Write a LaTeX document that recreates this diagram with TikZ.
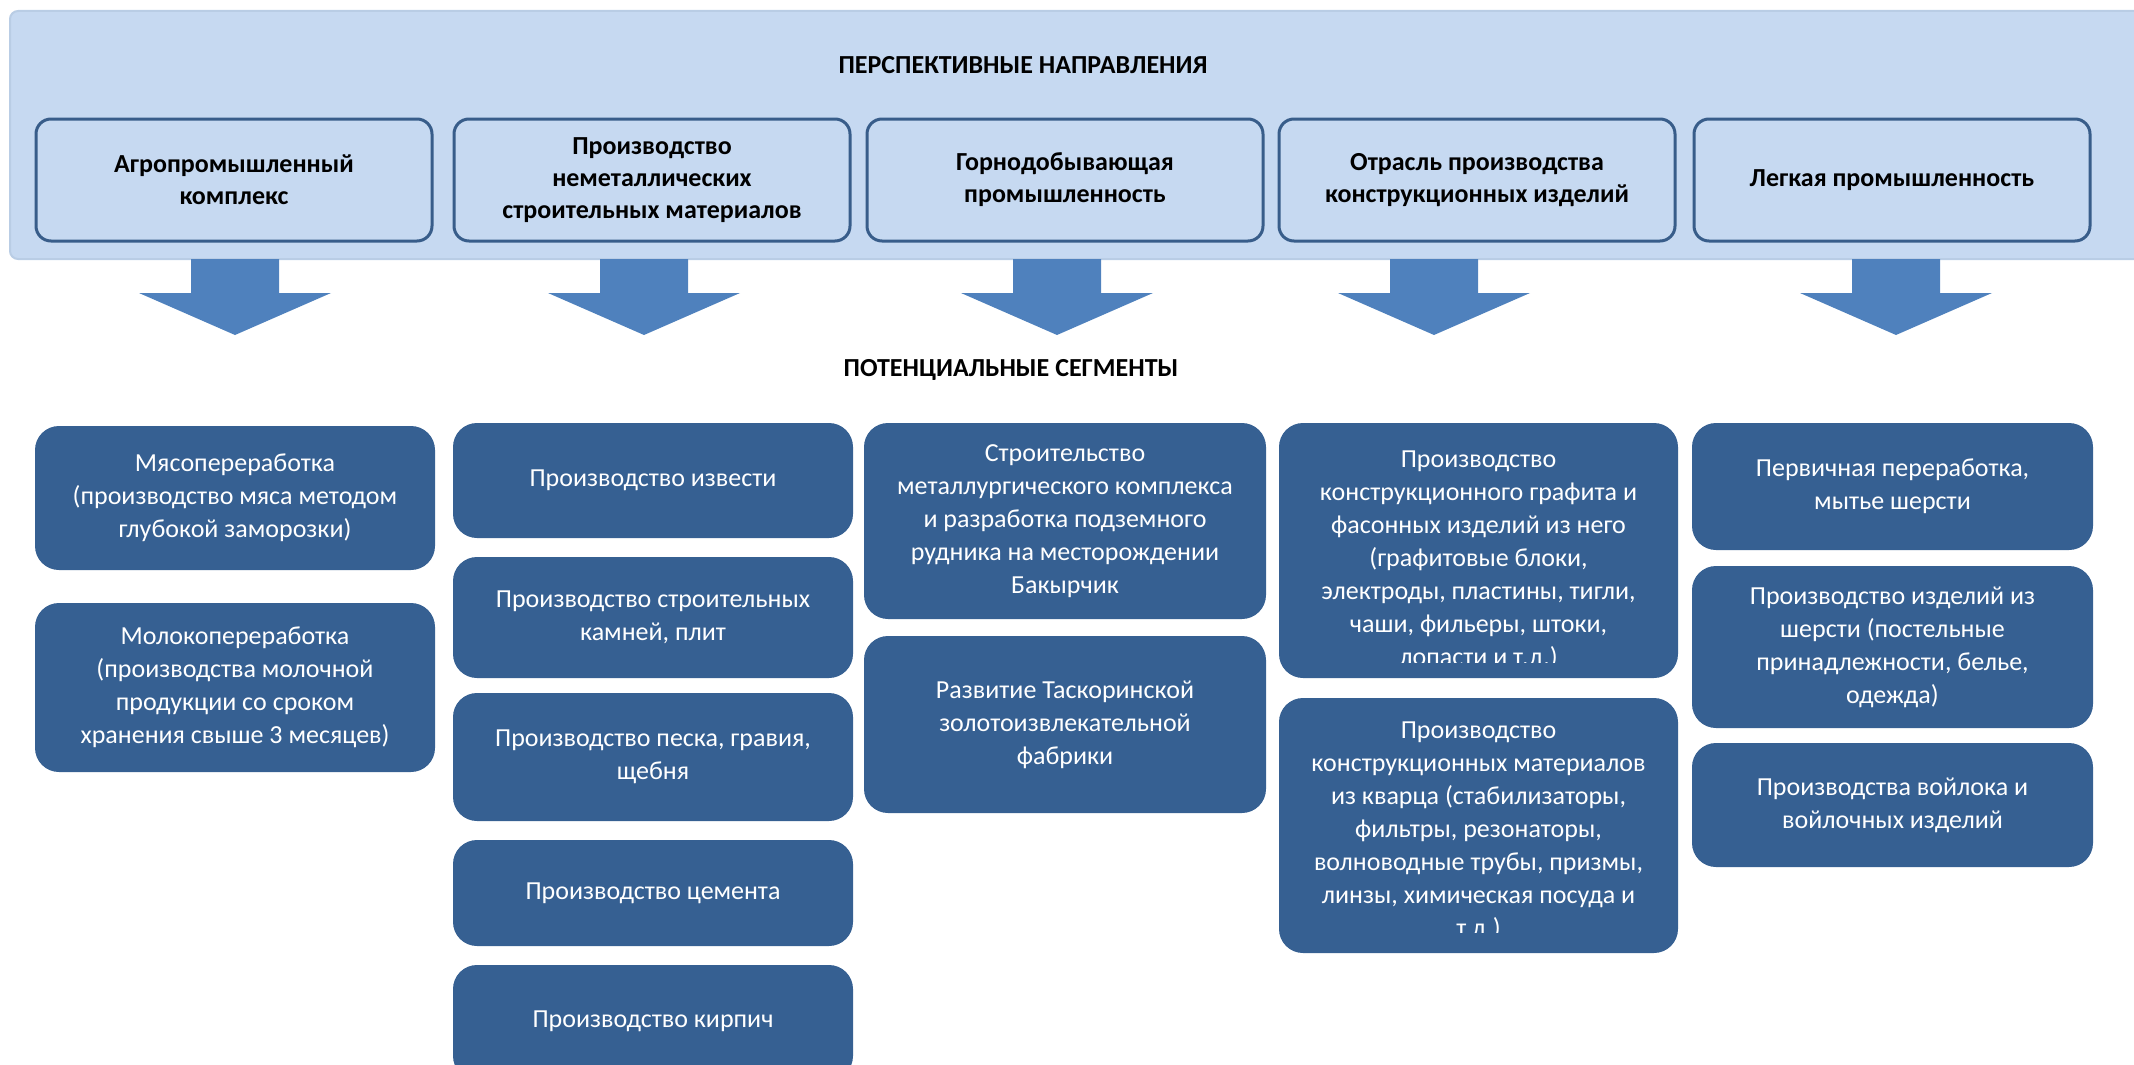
\documentclass[tikz,border=0pt]{standalone}
\usepackage{fontspec}
\setmainfont{Carlito}
\definecolor{bgfill}{RGB}{198,217,241}
\definecolor{bgline}{RGB}{185,205,229}
\definecolor{topline}{RGB}{56,93,138}
\definecolor{arrowblue}{RGB}{79,129,189}
\definecolor{segblue}{RGB}{54,96,146}
\tikzset{
  topbox/.style={draw=topline, line width=3pt, fill=bgfill, rounded corners=15pt,
    minimum width=396pt, minimum height=122pt, inner sep=0pt, outer sep=0pt,
    align=center, font=\fontsize{26}{32}\selectfont\bfseries},
  segbox/.style={fill=segblue, rounded corners=24pt, inner sep=0pt, outer sep=0pt,
    text=white, align=center, font=\fontsize{26}{33}\selectfont},
  segtext/.style={inner sep=0pt, text=white, align=center, font=\fontsize{26}{33}\selectfont},
  headtext/.style={inner sep=0pt, font=\fontsize{26}{32}\selectfont\bfseries},
}
\begin{document}
\begin{tikzpicture}[x=1pt,y=-1pt]
\useasboundingbox (0,0) rectangle (2134,1065);
\clip (0,0) rectangle (2134,1065);
% background panel
\draw[fill=bgfill, draw=bgline, line width=2pt, rounded corners=8pt] (10,11) rectangle (2160,259);
\node[headtext] (title) at (1023,65) {ПЕРСПЕКТИВНЫЕ НАПРАВЛЕНИЯ};
% top boxes
\node[topbox] (t1) at (234,180) {Агропромышленный\\комплекс};
\node[topbox] (t2) at (652,180) {Производство\\неметаллических\\строительных материалов};
\node[topbox] (t3) at (1065,180) {Горнодобывающая\\промышленность};
\node[topbox] (t4) at (1477,180) {Отрасль производства\\конструкционных изделий};
\node[topbox] (t5) at (1892,180) {Легкая промышленность};
% block arrows
\foreach \n/\cx in {1/235,2/644,3/1057,4/1434,5/1896}{
  \coordinate (a\n) at (\cx,259);
  \fill[arrowblue] (a\n) ++(-44,0) -- ++(0,34) -- ++(-52,0) -- ++(96,42) -- ++(96,-42) -- ++(-52,0) -- ++(0,-34) -- cycle;
}
\node[headtext] (sub) at (1011,370) {ПОТЕНЦИАЛЬНЫЕ СЕГМЕНТЫ};
% column 1
\node[segbox, minimum width=400pt, minimum height=144pt] (c1a) at (235,498) {Мясопереработка\\(производство мяса методом\\глубокой заморозки)};
\node[segbox, minimum width=400pt, minimum height=169pt] (c1b) at (235,687.5) {Молокопереработка\\(производства молочной\\продукции со сроком\\хранения свыше 3 месяцев)};
% column 2
\node[segbox, minimum width=400pt, minimum height=115pt] (c2a) at (653,480.5) {Производство извести};
\node[segbox, minimum width=400pt, minimum height=121pt] (c2b) at (653,617.5) {Производство строительных\\камней, плит};
\node[segbox, minimum width=400pt, minimum height=128pt] (c2c) at (653,757) {Производство песка, гравия,\\щебня};
\node[segbox, minimum width=400pt, minimum height=106pt] (c2d) at (653,893) {Производство цемента};
\node[segbox, minimum width=400pt, minimum height=115pt] (c2e) at (653,1022.5) {};
\node[segtext] (c2et) at (653,1021) {Производство кирпич};
% column 3
\node[segbox, minimum width=402pt, minimum height=196pt] (c3a) at (1065,521) {Строительство\\металлургического комплекса\\и разработка подземного\\рудника на месторождении\\Бакырчик};
\node[segbox, minimum width=402pt, minimum height=177pt] (c3b) at (1065,724.5) {Развитие Таскоринской\\золотоизвлекательной\\фабрики};
% column 4
\node[segbox, minimum width=399pt, minimum height=255pt] (c4a) at (1478.5,550.5) {};
\begin{scope}
\clip (1279,423) rectangle (1678,662);
\node[segtext] (c4at) at (1478.5,560) {Производство\\конструкционного графита и\\фасонных изделий из него\\(графитовые блоки,\\электроды, пластины, тигли,\\чаши, фильеры, штоки,\\лопасти и т.д.)};
\end{scope}
\node[segbox, minimum width=399pt, minimum height=255pt] (c4b) at (1478.5,825.5) {};
\begin{scope}
\clip (1279,698) rectangle (1678,932);
\node[segtext] (c4bt) at (1478.5,831) {Производство\\конструкционных материалов\\из кварца (стабилизаторы,\\фильтры, резонаторы,\\волноводные трубы, призмы,\\линзы, химическая посуда и\\т.д.)};
\end{scope}
% column 5
\node[segbox, minimum width=401pt, minimum height=127pt] (c5a) at (1892.5,486.5) {Первичная переработка,\\мытье шерсти};
\node[segbox, minimum width=401pt, minimum height=162pt] (c5b) at (1892.5,647) {Производство изделий из\\шерсти (постельные\\принадлежности, белье,\\одежда)};
\node[segbox, minimum width=401pt, minimum height=124pt] (c5c) at (1892.5,805) {Производства войлока и\\войлочных изделий};
\end{tikzpicture}
\end{document}
